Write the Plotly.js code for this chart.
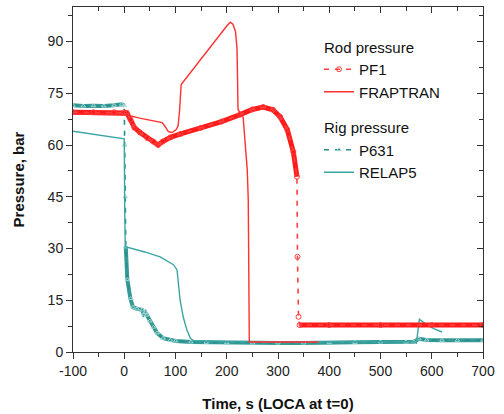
<!DOCTYPE html>
<html>
<head>
<meta charset="utf-8">
<script src="https://cdn.plot.ly/plotly-3.0.1.min.js"></script>
<style>html,body{margin:0;padding:0;background:#fff;}#chart{width:504px;height:414px;}</style>
</head>
<body>
<div id="chart"></div>
<script>
// ---- Data ----
// Rod pressure, measured (PF1)
const pf1T = [-100, -60, -20, 0, 5, 12, 20, 31, 45, 57, 66, 75, 90, 110, 150, 190, 226, 250, 271, 290, 304, 318, 330, 337, 338, 340, 342, 400, 500, 600, 700];
const pf1P = [69.5, 69.5, 69.5, 69.5, 69.3, 67.4, 65.0, 63.6, 62.0, 61.0, 60.0, 61.0, 62.2, 63.2, 65.0, 66.8, 68.8, 70.3, 71.0, 70.2, 68.2, 64.5, 58.0, 50.8, 27.6, 10.2, 7.8, 7.8, 7.8, 7.8, 7.8];
// Rod pressure, calculated (FRAPTRAN)
const fraT = [-100, -50, 0, 5, 30, 50, 74, 80, 86, 93, 101, 105, 108, 111, 150, 180, 200, 207, 212, 217, 220, 221, 222, 232, 240, 242, 244, 300, 379];
const fraP = [69.0, 68.8, 68.8, 68.7, 67.8, 67.2, 66.5, 65.3, 63.9, 63.6, 64.4, 65.5, 70.0, 77.5, 85.0, 90.6, 94.5, 95.6, 95.0, 93.0, 88.0, 80.0, 70.3, 68.0, 52.8, 44.0, 2.9, 2.9, 2.9];
// Rig pressure, measured (P631)
const p631T = [-100, -80, -60, -40, -20, -5, 0, 1, 2, 3, 6, 12, 17, 25, 35, 38, 41, 44, 50, 57, 64, 76, 90, 100, 130, 160, 200, 250, 300, 350, 400, 450, 500, 550, 565, 575, 590, 620, 650, 700];
const p631P = [71.5, 71.3, 71.4, 71.3, 71.5, 71.8, 71.5, 60.0, 45.0, 30.5, 21.0, 15.5, 13.0, 12.5, 12.2, 11.0, 11.5, 10.7, 9.0, 7.2, 5.5, 4.0, 3.4, 3.2, 2.9, 2.8, 2.7, 2.6, 2.6, 2.6, 2.8, 2.8, 2.9, 2.9, 3.0, 3.8, 3.5, 3.4, 3.4, 3.4];
// Rig pressure, calculated (RELAP5)
const relT = [-100, -2, 0, 1, 2, 40, 70, 96, 103, 109, 115, 122, 129, 135, 200, 300, 400, 500, 565, 570, 576, 591, 605, 620];
const relP = [64.0, 61.8, 61.8, 40.0, 30.5, 29.0, 27.6, 25.3, 23.8, 15.0, 10.2, 6.5, 4.0, 3.3, 3.0, 2.9, 2.9, 3.0, 3.0, 2.6, 9.5, 7.8, 6.7, 5.8];

// time windows in which the measured signals were sampled sparsely (fast drops)
const pf1SparseWindow = [337, 342];
const p631SparseWindow = [0, 3];

const xTickVals = [-100, 0, 100, 200, 300, 400, 500, 600, 700];
const xTickText = ['-100', '0', '100', '200', '300', '400', '500', '600', '700'];
const yTickVals = [0, 15, 30, 45, 60, 75, 90];
const yTickText = ['0', '15', '30', '45', '60', '75', '90'];

function dense(t, p, win) {
  return p.map((v, i) => (t[i] > win[0] && t[i] < win[1]) ? null : v);
}

const RED = '#ff1a1a';
const TEAL = '#23908c';
const TEAL_L = '#3aa6a4';

const traces = [
  { x: p631T, y: dense(p631T, p631P, p631SparseWindow), mode: 'lines', type: 'scatter',
    line: { color: TEAL, width: 4 }, opacity: 0.9, showlegend: false, hoverinfo: 'skip', connectgaps: false },
  { x: p631T, y: p631P, mode: 'lines+markers', type: 'scatter', name: 'P631',
    legendgroup: 'rig', legendgrouptitle: { text: 'Rig pressure', font: { size: 15, color: '#111' } }, legendrank: 3,
    line: { color: TEAL, width: 1.6, dash: '5px,6px' },
    marker: { symbol: 'triangle-up-open', size: 4, color: '#9fd6d4', line: { width: 1 } } },
  { x: relT, y: relP, mode: 'lines', type: 'scatter', name: 'RELAP5',
    legendgroup: 'rig', legendrank: 4, line: { color: TEAL_L, width: 1.4 } },
  { x: pf1T, y: dense(pf1T, pf1P, pf1SparseWindow), mode: 'lines', type: 'scatter',
    line: { color: RED, width: 5 }, showlegend: false, hoverinfo: 'skip', connectgaps: false },
  { x: pf1T, y: pf1P, mode: 'lines+markers', type: 'scatter', name: 'PF1',
    legendgroup: 'rod', legendgrouptitle: { text: 'Rod pressure', font: { size: 15, color: '#111' } }, legendrank: 1,
    line: { color: '#ff4040', width: 1.6, dash: '5px,6px' },
    marker: { symbol: 'circle-open', size: 5, color: '#ff4040', line: { width: 1 } } },
  { x: fraT, y: fraP, mode: 'lines', type: 'scatter', name: 'FRAPTRAN',
    legendgroup: 'rod', legendrank: 2, line: { color: '#ff3030', width: 1.4 } },
  // carrier for the mirrored (top/right) tick axes
  { x: [-100], y: [0], xaxis: 'x2', yaxis: 'y2', mode: 'markers', marker: { opacity: 0 },
    showlegend: false, hoverinfo: 'skip' }
];

const tickFont = { family: 'Liberation Sans, Arial, sans-serif', size: 14, color: '#222' };
const layout = {
  width: 504, height: 414,
  margin: { l: 73, r: 21, t: 7, b: 62, pad: 0 },
  paper_bgcolor: '#fff', plot_bgcolor: '#fff',
  font: { family: 'Liberation Sans, Arial, sans-serif', size: 14, color: '#111' },
  showlegend: true,
  legend: { x: 0.6, y: 0.932, xanchor: 'left', yanchor: 'top', bgcolor: 'rgba(0,0,0,0)',
    traceorder: 'grouped', tracegroupgap: 13, font: { size: 15, color: '#111' }, itemwidth: 30 },
  xaxis: { range: [-100, 700], tickvals: xTickVals, ticktext: xTickText, ticks: 'outside', ticklen: 6, tickcolor: '#333',
    showline: true, linecolor: '#333', linewidth: 1, showgrid: false, zeroline: false, tickfont: tickFont,
    minor: { dtick: 50, tick0: 0, ticks: 'outside', ticklen: 4, tickcolor: '#333', showgrid: false },
    title: { text: '<b>Time, s (LOCA at t=0)</b>', font: { size: 15, color: '#111' }, standoff: 20 } },
  yaxis: { range: [0, 100], tickvals: yTickVals, ticktext: yTickText, ticks: 'outside', ticklen: 6, tickcolor: '#333',
    showline: true, linecolor: '#333', linewidth: 1, showgrid: false, zeroline: false, tickfont: tickFont,
    minor: { dtick: 7.5, tick0: 0, ticks: 'outside', ticklen: 4, tickcolor: '#333', showgrid: false },
    title: { text: '<b>Pressure, bar</b>', font: { size: 15, color: '#111' }, standoff: 19 } },
  xaxis2: { overlaying: 'x', side: 'top', range: [-100, 700], tickvals: xTickVals, ticks: 'inside', ticklen: 6,
    tickcolor: '#333', showline: true, linecolor: '#333', linewidth: 1, showgrid: false, zeroline: false,
    showticklabels: false, minor: { dtick: 50, tick0: 0, ticks: 'inside', ticklen: 4, tickcolor: '#333', showgrid: false } },
  yaxis2: { overlaying: 'y', side: 'right', range: [0, 100], tickvals: yTickVals, ticks: 'inside', ticklen: 6,
    tickcolor: '#333', showline: true, linecolor: '#333', linewidth: 1, showgrid: false, zeroline: false,
    showticklabels: false, minor: { dtick: 7.5, tick0: 0, ticks: 'inside', ticklen: 4, tickcolor: '#333', showgrid: false } }
};

Plotly.newPlot('chart', traces, layout, { displayModeBar: false, staticPlot: true });
</script>
</body>
</html>
